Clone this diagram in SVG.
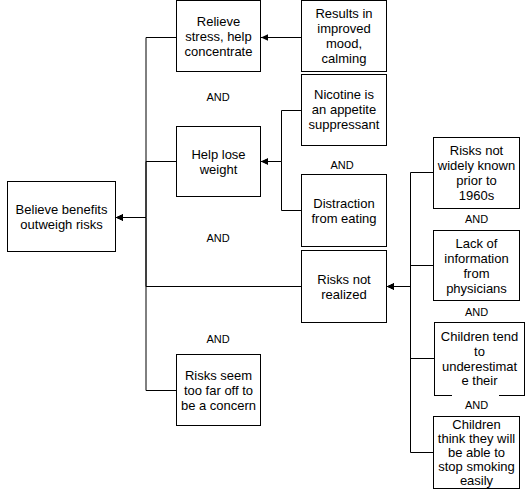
<svg xmlns="http://www.w3.org/2000/svg" width="532" height="493" viewBox="0 0 532 493">
<defs>
<marker id="arr" markerUnits="userSpaceOnUse" markerWidth="8" markerHeight="8" refX="7" refY="4" orient="auto">
<path d="M0,0.8 L7,4 L0,7.2 z" fill="#000"/>
</marker>
<style>
.box{fill:#fff;stroke:#000;stroke-width:1}
.t{font-family:"Liberation Sans",Arial,sans-serif;font-size:13px;fill:#000;text-anchor:middle}
.and{font-family:"Liberation Sans",Arial,sans-serif;font-size:11px;fill:#000;text-anchor:middle}
.c{fill:none;stroke:#000;stroke-width:1}
</style>
</defs>
<rect width="532" height="493" fill="#fff"/>
<g id="connectors">
<path class="c" d="M176 37.5 H146 V217.5 H116" marker-end="url(#arr)"/>
<path class="c" d="M176 161.5 H146 V217.5 H116" marker-end="url(#arr)"/>
<path class="c" d="M301 286.5 H146 V217.5 H116" marker-end="url(#arr)"/>
<path class="c" d="M176 390.5 H146 V217.5 H116" marker-end="url(#arr)"/>
<path class="c" d="M301 37.5 H261" marker-end="url(#arr)"/>
<path class="c" d="M301 110.5 H281.5 V161.5 H261" marker-end="url(#arr)"/>
<path class="c" d="M301 210.5 H281.5 V161.5 H261" marker-end="url(#arr)"/>
<path class="c" d="M433 172.5 H410.5 V286.5 H387" marker-end="url(#arr)"/>
<path class="c" d="M433 265.5 H410.5 V286.5 H387" marker-end="url(#arr)"/>
<path class="c" d="M434 358.5 H410.5 V286.5 H387" marker-end="url(#arr)"/>
<path class="c" d="M433 452.5 H410.5 V286.5 H387" marker-end="url(#arr)"/>
</g>
<g id="believe"><rect class="box" x="7.5" y="181.5" width="108" height="70"/>
<text class="t" x="61.5" y="214">Believe benefits</text><text class="t" x="61.5" y="229">outweigh risks</text></g>
<g id="relieve"><rect class="box" x="176.5" y="0.5" width="84" height="71"/>
<text class="t" x="218.5" y="25.5">Relieve</text><text class="t" x="218.5" y="40.5">stress, help</text><text class="t" x="218.5" y="55.5">concentrate</text></g>
<g id="results"><rect class="box" x="301.5" y="0.5" width="85" height="71"/>
<text class="t" x="344" y="18">Results in</text><text class="t" x="344" y="33">improved</text><text class="t" x="344" y="48">mood,</text><text class="t" x="344" y="63">calming</text></g>
<g id="help"><rect class="box" x="176.5" y="126.5" width="84" height="70"/>
<text class="t" x="218.5" y="159">Help lose</text><text class="t" x="218.5" y="174">weight</text></g>
<g id="nicotine"><rect class="box" x="301.5" y="74.5" width="85" height="71"/>
<text class="t" x="344" y="99">Nicotine is</text><text class="t" x="344" y="114">an appetite</text><text class="t" x="344" y="129">suppressant</text></g>
<g id="distraction"><rect class="box" x="301.5" y="174.5" width="85" height="72"/>
<text class="t" x="344" y="208">Distraction</text><text class="t" x="344" y="223">from eating</text></g>
<g id="notrealized"><rect class="box" x="301.5" y="250.5" width="85" height="72"/>
<text class="t" x="344" y="283.5">Risks not</text><text class="t" x="344" y="298.5">realized</text></g>
<g id="seem"><rect class="box" x="176.5" y="354.5" width="84" height="71"/>
<text class="t" x="218.5" y="379.5">Risks seem</text><text class="t" x="218.5" y="394.5">too far off to</text><text class="t" x="218.5" y="409.5">be a concern</text></g>
<g id="widely"><rect class="box" x="433.5" y="137.5" width="86" height="71"/>
<text class="t" x="476.5" y="155">Risks not</text><text class="t" x="476.5" y="170">widely known</text><text class="t" x="476.5" y="185">prior to</text><text class="t" x="476.5" y="200">1960s</text></g>
<g id="lack"><rect class="box" x="433.5" y="230.5" width="86" height="70"/>
<text class="t" x="476.5" y="248">Lack of</text><text class="t" x="476.5" y="263">information</text><text class="t" x="476.5" y="278">from</text><text class="t" x="476.5" y="293">physicians</text></g>
<g id="tend"><rect class="box" x="434.5" y="322.5" width="90" height="73"/>
<text class="t" x="479.5" y="341">Children tend</text><text class="t" x="479.5" y="356">to</text><text class="t" x="479.5" y="371">underestimat</text><text class="t" x="479.5" y="385">e their</text></g>
<g id="think"><rect class="box" x="433.5" y="416.5" width="86" height="72"/>
<text class="t" x="476.5" y="428.5">Children</text><text class="t" x="476.5" y="442.5">think they will</text><text class="t" x="476.5" y="456.5">be able to</text><text class="t" x="476.5" y="470.5">stop smoking</text><text class="t" x="476.5" y="484.5">easily</text></g>
<g id="labels">
<text class="and" x="218" y="101">AND</text>
<text class="and" x="218" y="242">AND</text>
<text class="and" x="218" y="343">AND</text>
<text class="and" x="342" y="169">AND</text>
<text class="and" x="476.5" y="223">AND</text>
<text class="and" x="476.5" y="316">AND</text>
<rect x="452" y="393" width="47" height="21" fill="#fff"/>
<text class="and" x="476.5" y="409">AND</text>
</g>
</svg>
